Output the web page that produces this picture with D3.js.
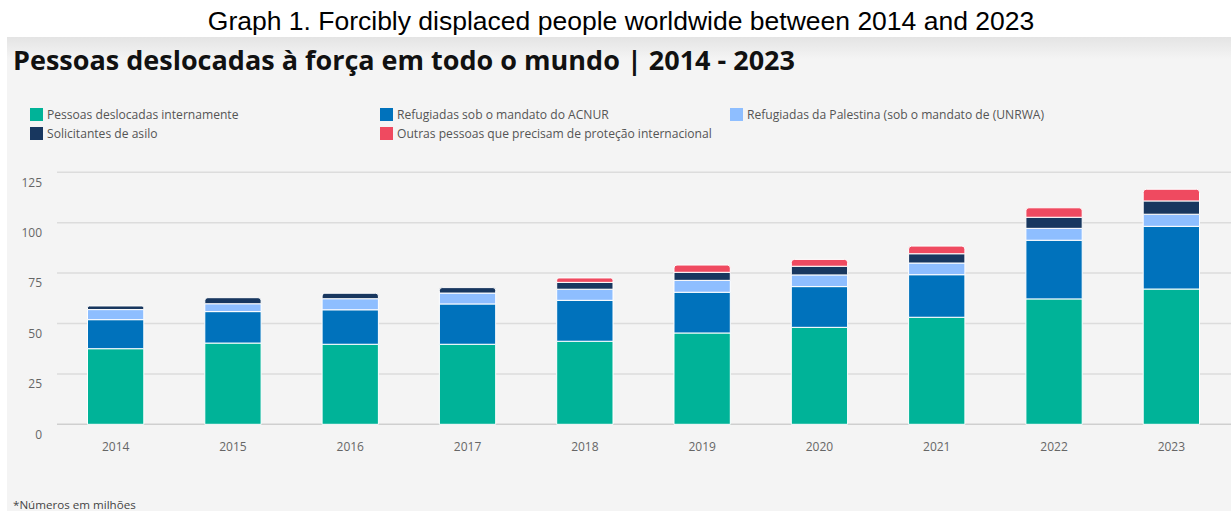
<!DOCTYPE html>
<html lang="pt">
<head>
<meta charset="UTF-8">
<title>Pessoas deslocadas à força</title>
<script src="https://d3js.org/d3.v7.min.js"></script>
<style>
  body { margin: 0; background: #fff; }
  svg text { font-family: "Open Sans", "Noto Sans", sans-serif; }
</style>
</head>
<body>
<script>
    // values in millions
    const years = ["2014", "2015", "2016", "2017", "2018", "2019", "2020", "2021", "2022", "2023"];
    const seriesNames = [
        "Pessoas deslocadas internamente",
        "Refugiadas sob o mandato do ACNUR",
        "Refugiadas da Palestina (sob o mandato de (UNRWA)",
        "Solicitantes de asilo",
        "Outras pessoas que precisam de proteção internacional"
    ];
    const internos   = [37.5, 40.3, 39.7, 39.7, 41.2, 45.3, 48.1, 53.1, 62.2, 67.1];
    const acnur      = [14.4, 15.6, 17.1, 20.0, 20.3, 20.2, 20.2, 21.1, 29.1, 31.1];
    const palestina  = [5.0, 3.9, 5.5, 5.4, 5.5, 5.9, 5.8, 5.8, 5.9, 6.0];
    const asilo      = [1.8, 3.0, 2.7, 2.7, 3.4, 4.0, 4.3, 4.6, 5.5, 6.6];
    const outras     = [0, 0, 0, 0, 2.2, 3.6, 3.4, 3.8, 4.7, 5.8];
    const yTicks = [0, 25, 50, 75, 100, 125];
    const colors = ["#00b398", "#0072bc", "#8ebeff", "#18375f", "#ef4a60"];

    const W = 1231, H = 511;
    const keys = ["internos", "acnur", "palestina", "asilo", "outras"];
    const table = years.map((yr, i) => ({
        year: yr, internos: internos[i], acnur: acnur[i], palestina: palestina[i],
        asilo: asilo[i], outras: outras[i]
    }));

    const svg = d3.select("body").append("svg")
        .attr("width", W).attr("height", H);

    // gray panel with slight shading at the top
    const defs = svg.append("defs");
    const grad = defs.append("linearGradient").attr("id", "panelGrad")
        .attr("x1", 0).attr("y1", 0).attr("x2", 0).attr("y2", 1);
    grad.append("stop").attr("offset", "0%").attr("stop-color", "#e4e4e4");
    grad.append("stop").attr("offset", "100%").attr("stop-color", "#f4f4f4");
    svg.append("rect").attr("x", 7).attr("y", 37).attr("width", W - 7).attr("height", H - 37)
        .attr("fill", "#f4f4f4");
    svg.append("rect").attr("x", 7).attr("y", 37).attr("width", W - 7).attr("height", 22)
        .attr("fill", "url(#panelGrad)");

    svg.append("text")
        .attr("x", 621).attr("y", 30)
        .attr("text-anchor", "middle")
        .style("font-family", "'Liberation Sans', Arial, sans-serif")
        .style("font-size", "26.5px")
        .attr("fill", "#000")
        .text("Graph 1. Forcibly displaced people worldwide between 2014 and 2023");

    svg.append("text")
        .attr("x", 13).attr("y", 70)
        .style("font-size", "27px").style("font-weight", 700)
        .attr("fill", "#111")
        .text("Pessoas deslocadas à força em todo o mundo | 2014 - 2023");

    // legend
    const legendPos = [[30, 108], [380, 108], [730, 108], [30, 127], [380, 127]];
    const leg = svg.append("g").selectAll("g").data(seriesNames).join("g")
        .attr("transform", (d, i) => "translate(" + legendPos[i][0] + "," + legendPos[i][1] + ")");
    leg.append("rect").attr("width", 13).attr("height", 13)
        .attr("fill", (d, i) => colors[i]);
    leg.append("text").attr("x", 17).attr("y", 7).attr("dy", "0.35em")
        .style("font-size", "12.1px").attr("fill", "#555")
        .text(d => d);

    // scales
    const x = d3.scaleBand().domain(years).range([57, 1230])
        .paddingInner(0.52).paddingOuter(0.26);
    const y = d3.scaleLinear().domain([0, 125]).range([424.3, 172.3]);

    // grid lines
    svg.append("g").selectAll("line").data(yTicks).join("line")
        .attr("x1", 57).attr("x2", W)
        .attr("y1", d => y(d)).attr("y2", d => y(d))
        .attr("stroke", d => d === 0 ? "#cfcfcf" : "#dcdcdc")
        .attr("stroke-width", 1.5);

    svg.append("g").selectAll("text").data(yTicks).join("text")
        .attr("x", 42).attr("y", d => y(d) + 10).attr("dy", "0.35em")
        .attr("text-anchor", "end")
        .style("font-size", "12px").attr("fill", "#666")
        .text(d => d);

    const xAxis = svg.append("g")
        .attr("transform", "translate(0," + y(0) + ")")
        .call(d3.axisBottom(x).tickSize(0).tickPadding(18));
    xAxis.select(".domain").remove();
    xAxis.selectAll("text").style("font-size", "12px").attr("fill", "#666")
        .style("font-family", "'Open Sans', sans-serif");

    // stacked bars
    const stacked = d3.stack().keys(keys)(table);
    const topKey = {};
    table.forEach(row => {
        let k = null;
        keys.forEach(key => { if (row[key] > 0) k = key; });
        topKey[row.year] = k;
    });

    function segPath(x0, w, yTop, yBot, rounded) {
        const r = rounded ? Math.min(3, (yBot - yTop) / 2) : 0;
        const p = d3.path();
        p.moveTo(x0, yBot);
        p.lineTo(x0, yTop + r);
        if (r) p.quadraticCurveTo(x0, yTop, x0 + r, yTop);
        p.lineTo(x0 + w - r, yTop);
        if (r) p.quadraticCurveTo(x0 + w, yTop, x0 + w, yTop + r);
        p.lineTo(x0 + w, yBot);
        p.closePath();
        return p.toString();
    }

    svg.append("g").selectAll("g").data(stacked).join("g")
        .attr("fill", (d, i) => colors[i])
        .each(function (layer) {
            d3.select(this).selectAll("path")
                .data(layer.filter(d => d[1] - d[0] > 0))
                .join("path")
                .attr("d", d => segPath(x(d.data.year), x.bandwidth(), y(d[1]), y(d[0]),
                    topKey[d.data.year] === layer.key))
                .attr("stroke", "#fff")
                .attr("stroke-width", 1);
        });

    svg.append("text")
        .attr("x", 13).attr("y", 509)
        .style("font-size", "11.6px").attr("fill", "#444")
        .text("*Números em milhões");
</script>
</body>
</html>
